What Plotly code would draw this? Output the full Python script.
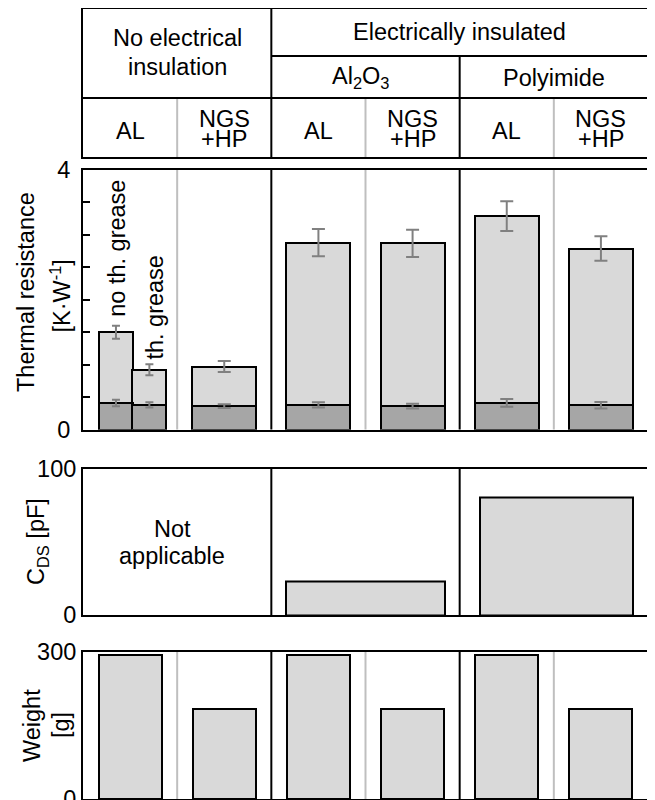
import plotly.graph_objects as go

# ---------------- data ----------------
thermal_labels = ["AL no th. grease", "AL th. grease", "NGS+HP",
                  "Al2O3 AL", "Al2O3 NGS+HP", "Polyimide AL", "Polyimide NGS+HP"]
thermal_total = [1.50, 0.92, 0.97, 2.88, 2.87, 3.29, 2.79]
thermal_total_err = [0.10, 0.085, 0.085, 0.21, 0.21, 0.23, 0.19]
thermal_base = [0.41, 0.38, 0.36, 0.38, 0.36, 0.41, 0.375]
thermal_base_err = [0.05, 0.04, 0.03, 0.04, 0.035, 0.06, 0.05]

cds_groups = ["Al2O3", "Polyimide"]
cds_values = [22.7, 80.0]

weight_labels = ["AL", "NGS+HP", "AL", "NGS+HP", "AL", "NGS+HP"]
weight_values = [294, 184, 294, 184, 294, 184]

# ---------------- layout helpers ----------------
FONT = "Liberation Sans, Arial, sans-serif"
FS = 23.5
LIGHT = "#d9d9d9"
DARK = "#a6a6a6"
ERR = "#808080"
DIV_GRAY = "#bfbfbf"

# slot positions (x units: 6 slots, one per configuration)
thermal_x = [0.35, 0.705, 1.5, 2.5, 3.5, 4.5, 5.5]
thermal_w = [0.36, 0.36, 0.68, 0.68, 0.68, 0.68, 0.68]
cds_x = [3.0, 5.03]
weight_x = [0.5, 1.5, 2.5, 3.5, 4.5, 5.5]

# the page has an 8px body margin, so the figure is offset by (8, 8) in the window
OFF = 8
W, H = 655 - OFF, 800 - OFF
ML, MR, MT, MB = 83 - OFF, 7, 1, 1
PH = H - MT - MB
PW = W - ML - MR


def py2paper(py):
    # py: pixel row in the browser window
    return (H - MB - (py - OFF)) / PH


def px2paperx(px):
    return (px - OFF - ML) / PW


dom_table = [py2paper(157), 1.0]
dom_th = [py2paper(429.5), py2paper(170)]
dom_cds = [py2paper(615), py2paper(468.5)]
dom_w = [0.0, py2paper(652)]

fig = go.Figure()

# thermal light bars
fig.add_trace(go.Bar(
    x=thermal_x[:2], y=thermal_total[:2], width=thermal_w[:2],
    marker=dict(color=LIGHT, line=dict(color="black", width=2)),
    error_y=dict(type="data", array=thermal_total_err[:2], color=ERR, thickness=2, width=4),
    xaxis="x", yaxis="y", showlegend=False))
fig.add_trace(go.Bar(
    x=thermal_x[2:], y=thermal_total[2:], width=thermal_w[2:],
    marker=dict(color=LIGHT, line=dict(color="black", width=2)),
    error_y=dict(type="data", array=thermal_total_err[2:], color=ERR, thickness=2, width=6.5),
    xaxis="x", yaxis="y", showlegend=False))
# thermal dark bars
fig.add_trace(go.Bar(
    x=thermal_x[:2], y=thermal_base[:2], width=thermal_w[:2],
    marker=dict(color=DARK, line=dict(color="black", width=2)),
    error_y=dict(type="data", array=thermal_base_err[:2], color=ERR, thickness=2, width=4),
    xaxis="x", yaxis="y", showlegend=False))
fig.add_trace(go.Bar(
    x=thermal_x[2:], y=thermal_base[2:], width=thermal_w[2:],
    marker=dict(color=DARK, line=dict(color="black", width=2)),
    error_y=dict(type="data", array=thermal_base_err[2:], color=ERR, thickness=2, width=6.5),
    xaxis="x", yaxis="y", showlegend=False))

# CDS bars
fig.add_trace(go.Bar(
    x=cds_x, y=cds_values, width=[1.68, 1.62],
    marker=dict(color=LIGHT, line=dict(color="black", width=2)),
    xaxis="x2", yaxis="y2", showlegend=False))

# weight bars
fig.add_trace(go.Bar(
    x=weight_x, y=weight_values, width=0.67,
    marker=dict(color=LIGHT, line=dict(color="black", width=2)),
    xaxis="x3", yaxis="y3", showlegend=False))

# invisible trace to create table axes
fig.add_trace(go.Scatter(x=[0], y=[0], mode="markers", marker=dict(opacity=0),
                         xaxis="x4", yaxis="y4", showlegend=False, hoverinfo="skip"))

xcommon = dict(range=[0, 6], showticklabels=False, ticks="", showgrid=False, zeroline=False,
               showline=True, linecolor="black", linewidth=2, mirror=True, fixedrange=True,
               automargin=False)
ycommon = dict(showgrid=False, zeroline=False, showline=True, linecolor="black", linewidth=2,
               mirror=True, tickfont=dict(family=FONT, size=FS, color="black"), automargin=False,
               fixedrange=True, ticklabeloverflow="allow")

shapes = []
# dividers in the panels
for xr, yr, grays in [("x", "y", [1, 3, 5]), ("x3", "y3", [1, 3, 5]), ("x2", "y2", [])]:
    for gx in grays:
        shapes.append(dict(type="line", xref=xr, yref=yr + " domain", x0=gx, x1=gx, y0=0, y1=1,
                           line=dict(color=DIV_GRAY, width=2), layer="below"))
    for bx in [2, 4]:
        shapes.append(dict(type="line", xref=xr, yref=yr + " domain", x0=bx, x1=bx, y0=0, y1=1,
                           line=dict(color="black", width=2)))

# table lines (table y units: 157 - pixel row)
tl = dict(color="black", width=2)
shapes += [
    dict(type="line", xref="x4", yref="y4", x0=0, x1=6, y0=59, y1=59, line=tl),
    dict(type="line", xref="x4", yref="y4", x0=2, x1=6, y0=101, y1=101, line=tl),
    dict(type="line", xref="x4", yref="y4", x0=2, x1=2, y0=0, y1=148, line=tl),
    dict(type="line", xref="x4", yref="y4", x0=4, x1=4, y0=0, y1=101, line=tl),
]
for gx in [1, 3, 5]:
    shapes.append(dict(type="line", xref="x4", yref="y4", x0=gx, x1=gx, y0=0, y1=59,
                       line=dict(color=DIV_GRAY, width=2), layer="below"))

ann = []
tf = dict(family=FONT, size=FS, color="black")


def add_text(text, x, y, xref="x4", yref="y4", angle=0):
    ann.append(dict(text=text, x=x, y=y, xref=xref, yref=yref, showarrow=False,
                    xanchor="center", yanchor="middle", textangle=angle, font=tf))


# table text
add_text("No electrical", 1.0, 119.5)
add_text("insulation", 1.0, 90)
add_text("Electrically insulated", 4.0, 125.5)
add_text("Al<sub>2</sub>O<sub>3</sub>", 2.95, 79.5)
add_text("Polyimide", 5.0, 79.5)
for i in range(3):
    add_text("AL", 2 * i + 0.5, 26)
    add_text("NGS", 2 * i + 1.5, 38.5)
    add_text("+HP", 2 * i + 1.5, 18.5)

# rotated labels in thermal panel
add_text("no th. grease", 0.36, 2.80, "x", "y", -90)
add_text("th. grease", 0.765, 1.88, "x", "y", -90)

# not applicable
add_text("Not", 0.95, 59.0, "x2", "y2")
add_text("applicable", 0.95, 40.0, "x2", "y2")

# axis titles
add_text("Thermal resistance", px2paperx(25.5), py2paper(292.5), "paper", "paper", -90)
add_text("[K·W<sup>-1</sup>]", px2paperx(60), py2paper(296.5), "paper", "paper", -90)
add_text("C<sub>DS</sub> [pF]", px2paperx(37), py2paper(542), "paper", "paper", -90)
add_text("Weight", px2paperx(32), py2paper(726), "paper", "paper", -90)
add_text("[g]", px2paperx(61), py2paper(725), "paper", "paper", -90)

fig.update_layout(
    width=W, height=H,
    margin=dict(l=ML, r=MR, t=MT, b=MB, autoexpand=False),
    paper_bgcolor="white", plot_bgcolor="white",
    barmode="overlay", bargap=0,
    font=dict(family=FONT, size=FS, color="black"),
    xaxis=dict(**xcommon, anchor="y"),
    yaxis=dict(**ycommon, domain=dom_th, range=[0, 4], tickvals=[0, 4], ticktext=["0", "4"],
               ticks="inside", ticklen=7, tickwidth=2, tickcolor="black", ticklabelstandoff=6,
               minor=dict(dtick=0.5, tick0=0, ticks="inside", ticklen=7, tickwidth=2, tickcolor="black",
                          showgrid=False),
               anchor="x"),
    xaxis2=dict(**xcommon, anchor="y2"),
    yaxis2=dict(**ycommon, domain=dom_cds, range=[0, 100], tickvals=[0, 100], ticks="",
                ticklabelstandoff=0, anchor="x2"),
    xaxis3=dict(**xcommon, anchor="y3"),
    yaxis3=dict(**ycommon, domain=dom_w, range=[0, 300], tickvals=[0, 300], ticks="",
                ticklabelstandoff=0, anchor="x3"),
    xaxis4=dict(**xcommon, anchor="y4"),
    yaxis4=dict(showgrid=False, zeroline=False, showline=True, linecolor="black", linewidth=2,
                mirror=True, domain=dom_table, range=[0, 148], showticklabels=False, ticks="",
                anchor="x4", fixedrange=True, automargin=False),
    shapes=shapes,
    annotations=ann,
)

fig.write_html("out.html")
